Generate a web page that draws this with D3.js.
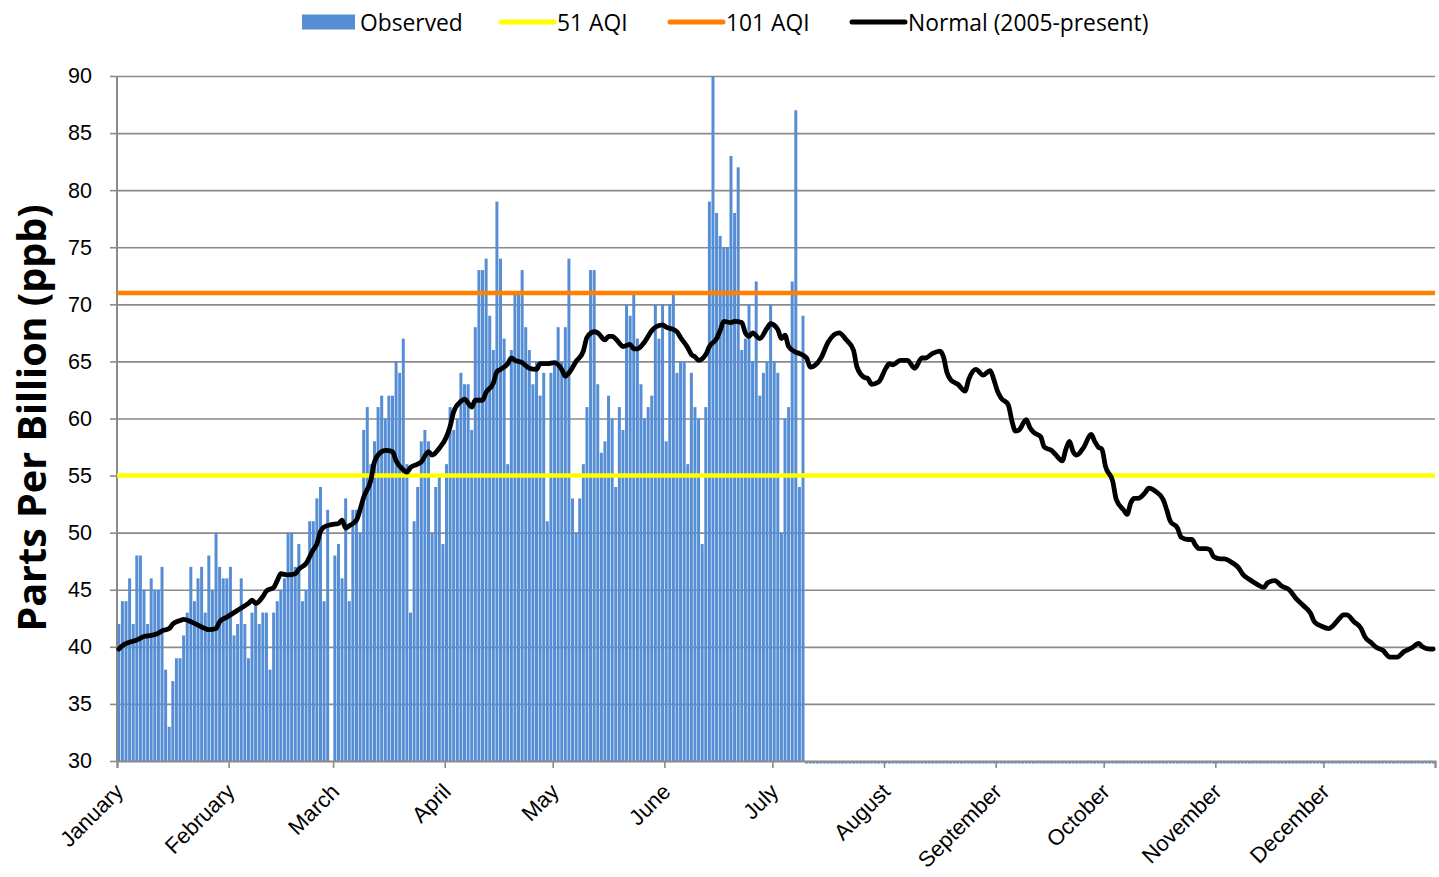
<!DOCTYPE html>
<html>
<head>
<meta charset="utf-8">
<script src="https://cdn.jsdelivr.net/npm/d3@7"></script>
<style>
  html, body { margin: 0; padding: 0; background: #fff; }
  svg { display: block; font-family: "Open Sans", "Noto Sans", sans-serif; }
</style>
</head>
<body>
<svg id="chart" width="1439" height="877"></svg>
<script>
// Daily maximum 8-hour ozone (ppb), one value per day of a leap year.
// Feb 29 has no observation (null).
const observedJan = [42,44,44,46,42,48,48,45,42,46,45,45,47,38,33,37,39,39,41,43,47,44,46,47,43,48,45,50,47,46,46];
const observedFeb = [47,41,42,46,42,39,43,44,42,43,43,38,43,44,45,46,50,50,47,49,44,45,51,51,53,54,44,52,null];
const observedMar = [48,49,46,53,44,52,52,50,59,61,56,58,61,62,60,62,62,65,64,67,56,43,51,54,58,59,58,50,54,55,49];
const observedApr = [56,61,59,60,64,63,63,59,68,73,73,74,69,66,79,74,67,56,66,71,71,73,68,66,63,65,62,64,51,64];
const observedMay = [65,68,65,68,74,53,50,53,56,61,73,73,63,57,58,62,60,54,61,59,70,69,71,67,63,60,61,62,70,67,70];
const observedJun = [58,70,71,64,65,65,56,64,61,60,49,61,79,90,78,76,75,75,83,78,82,66,67,70,65,72,62,64,65,70];
const observedJul = [65,64,50,60,61,72,87,54,69];

// Normal (2005-present) curve: day of year and ppb
const normalDay = [1,2,4,6,8,10,12,13,15,16,18,19,21,23,25,26,28,29,31,32,34,36,37,38,39,41,42,44,45,46,48,50,51,53,55,56,57,58,60,62,63,64,65,67,68,69,71,72,74,75,77,78,80,81,82,84,85,87,88,90,92,93,94,96,97,99,100,102,103,105,106,107,109,110,111,113,115,117,118,120,122,124,125,126,128,130,131,133,134,136,137,138,140,141,143,144,145,147,149,150,152,153,155,156,157,159,160,161,162,164,165,167,168,169,171,172,174,175,176,177,179,181,182,184,185,186,187,189,190,192,193,196,198,201,203,205,206,208,209,210,212,214,215,216,218,220,222,224,225,227,229,230,231,232,234,236,237,239,241,243,244,245,246,248,249,250,251,253,254,255,257,258,260,261,263,264,265,266,267,269,271,272,273,274,275,277,278,280,281,282,283,284,286,287,289,291,292,293,295,296,298,299,300,301,303,304,305,307,308,310,312,313,315,317,319,320,322,324,326,328,330,332,333,335,337,338,340,341,342,344,346,347,349,350,352,354,356,358,360,362,363,365,366];
const normalPpb = [39.8,40.1,40.4,40.6,40.9,41.0,41.2,41.4,41.6,42.0,42.3,42.4,42.2,41.9,41.6,41.5,41.6,42.2,42.6,42.8,43.2,43.6,43.8,44.1,43.8,44.4,44.9,45.2,45.8,46.4,46.3,46.4,46.8,47.3,48.5,49.0,50.1,50.5,50.7,50.8,51.1,50.4,50.6,51.1,52.0,53.1,54.6,56.2,57.1,57.2,57.1,56.3,55.5,55.3,55.7,56.0,56.2,57.1,56.8,57.4,58.4,59.3,60.6,61.5,61.7,61.0,61.6,61.6,62.3,63.1,64.1,64.3,64.8,65.3,65.1,64.9,64.4,64.3,64.8,64.8,64.9,64.3,63.7,64.0,65.0,65.9,67.1,67.6,67.5,66.9,67.2,67.2,66.6,66.3,66.5,66.1,66.1,66.7,67.7,68.0,68.2,68.0,67.8,67.6,67.1,66.2,65.6,65.4,65.1,65.6,66.3,67.0,67.7,68.5,68.4,68.5,68.4,67.5,67.2,67.5,67.0,67.9,68.3,67.8,67.0,67.3,66.3,65.8,65.7,65.3,64.5,65.3,66.7,67.5,66.9,66.0,64.5,63.6,63.5,63.0,63.2,64.4,64.8,64.7,65.1,65.1,64.4,65.3,65.3,65.7,65.9,65.4,64.0,63.4,63.0,62.4,63.4,64.3,63.8,64.2,63.4,62.4,61.8,61.2,59.8,58.9,59.0,59.9,59.2,58.8,58.4,57.5,57.2,56.9,56.3,57.3,58.0,57.1,56.8,57.5,58.6,58.0,57.5,57.3,55.8,54.5,52.9,52.0,51.6,52.6,53.0,53.0,53.5,53.9,53.6,52.9,52.0,51.0,50.4,49.6,49.4,49.4,48.9,48.6,48.6,48.5,47.9,47.7,47.7,47.4,46.9,46.4,45.9,45.5,45.2,45.6,45.8,45.3,45.0,44.2,43.6,42.9,42.2,41.8,41.6,41.8,42.5,42.8,42.8,42.2,41.6,40.9,40.3,40.0,39.7,39.1,39.1,39.6,39.9,40.3,40.0,39.8,39.8];

// AQI thresholds (ppb)
const aqi51 = 55;
const aqi101 = 71;

const yearDays = 366;
const monthNames = ["January","February","March","April","May","June","July","August","September","October","November","December"];
const monthStartDay = [1,32,61,92,122,153,183,214,245,275,306,336];
const yTicks = [30,35,40,45,50,55,60,65,70,75,80,85,90];

const legendItems = [
  { label: "Observed", kind: "bar", color: "#558ed5" },
  { label: "51 AQI", kind: "line", color: "#ffff00" },
  { label: "101 AQI", kind: "line", color: "#ff7f00" },
  { label: "Normal (2005-present)", kind: "line", color: "#000000" }
];

// ---------------------------------------------------------------------------
const observed = [].concat(observedJan, observedFeb, observedMar, observedApr, observedMay, observedJun, observedJul);
const W = 1439, H = 877;
const M = { left: 117, right: 4, top: 76, bottom: 116 };
const plotW = W - M.left - M.right;

const svg = d3.select("#chart");
const days = d3.range(1, yearDays + 1);

const x = d3.scaleBand().domain(days).range([M.left, W - M.right])
  .paddingInner(0.17).paddingOuter(0.085);
const xEdge = d3.scaleLinear().domain([0, yearDays]).range([M.left, W - M.right]);
const y = d3.scaleLinear().domain([30, 90]).range([H - M.bottom, M.top]);

const gridColor = "#8a8a8a";

// horizontal gridlines
svg.append("g")
  .attr("transform", `translate(${M.left},0)`)
  .call(d3.axisLeft(y).tickValues(yTicks.filter(v => v > 30)).tickSize(-plotW).tickFormat(""))
  .call(g => g.select(".domain").remove())
  .call(g => g.selectAll("line").attr("stroke", gridColor).attr("stroke-width", 1.6));

// y axis: ticks and labels
svg.append("g")
  .attr("transform", `translate(${M.left},0)`)
  .call(d3.axisLeft(y).tickValues(yTicks).tickSize(7).tickPadding(18).tickFormat(d3.format("d")))
  .call(g => g.select(".domain").remove())
  .call(g => g.selectAll("line").attr("stroke", gridColor).attr("stroke-width", 1.6))
  .call(g => g.selectAll("text").attr("fill", "#000").style("font-size", "21.5px"));

// observed bars (days past the last observation sit on the axis as a thin sliver)
const dayData = days.map(d => {
  const i = d - 1;
  return { day: d, value: i < observed.length ? observed[i] : 0 };
}).filter(d => d.value !== null);

svg.append("g")
  .selectAll("rect")
  .data(dayData)
  .join("rect")
  .attr("x", d => x(d.day))
  .attr("width", x.bandwidth())
  .attr("y", d => d.value >= 30 ? y(d.value) : y(30))
  .attr("height", d => d.value >= 30 ? y(30) - y(d.value) : 2.5)
  .attr("fill", "#558ed5");

// axis lines
svg.append("line")
  .attr("x1", M.left).attr("x2", M.left)
  .attr("y1", y(90)).attr("y2", y(30))
  .attr("stroke", gridColor).attr("stroke-width", 2);

svg.append("g")
  .attr("transform", `translate(0,${y(30)})`)
  .call(d3.axisBottom(xEdge)
    .tickValues(monthStartDay.map(d => d - 1).concat([yearDays]))
    .tickSize(7)
    .tickFormat((d, i) => monthNames[i] || ""))
  .call(g => g.select(".domain").attr("stroke", gridColor).attr("stroke-width", 2))
  .call(g => g.selectAll("line").attr("stroke", gridColor).attr("stroke-width", 1.6))
  .call(g => g.selectAll("text")
    .attr("x", 0).attr("y", 0).attr("dy", null)
    .attr("transform", "translate(7,32) rotate(-45)")
    .attr("text-anchor", "end")
    .attr("fill", "#000")
    .style("font-size", "22px"));

// AQI threshold lines
[[aqi51, "#ffff00"], [aqi101, "#ff7f00"]].forEach(([v, c]) => {
  svg.append("line")
    .attr("x1", M.left).attr("x2", W - M.right)
    .attr("y1", y(v)).attr("y2", y(v))
    .attr("stroke", c).attr("stroke-width", 4.5);
});

// normal curve
const line = d3.line()
  .x(d => x(d[0]) + x.bandwidth() / 2)
  .y(d => y(d[1]))
  .curve(d3.curveMonotoneX);

svg.append("path")
  .datum(normalDay.map((d, i) => [d, normalPpb[i]]))
  .attr("d", line)
  .attr("fill", "none")
  .attr("stroke", "#000")
  .attr("stroke-width", 4.8)
  .attr("stroke-linejoin", "round")
  .attr("stroke-linecap", "round");

// y axis title
svg.append("text")
  .attr("transform", "translate(31,418) rotate(-90)")
  .attr("text-anchor", "middle")
  .attr("dominant-baseline", "central")
  .style("font-size", "39.5px")
  .style("font-weight", "bold")
  .attr("fill", "#000")
  .text("Parts Per Billion (ppb)");

// legend
const legendX = [302, 499, 668, 850];
const legend = svg.append("g").attr("transform", "translate(0,22)");
legendItems.forEach((item, i) => {
  const g = legend.append("g").attr("transform", `translate(${legendX[i]},0)`);
  if (item.kind === "bar") {
    g.append("rect").attr("x", 0).attr("y", -7.5).attr("width", 53).attr("height", 15).attr("fill", item.color);
  } else {
    g.append("line").attr("x1", 2).attr("x2", 55).attr("y1", 0).attr("y2", 0)
      .attr("stroke", item.color).attr("stroke-width", 5).attr("stroke-linecap", "round");
  }
  g.append("text")
    .attr("x", 58)
    .attr("y", 0)
    .attr("dominant-baseline", "central")
    .style("font-size", "22.8px")
    .attr("fill", "#000")
    .text(item.label);
});
</script>
</body>
</html>
